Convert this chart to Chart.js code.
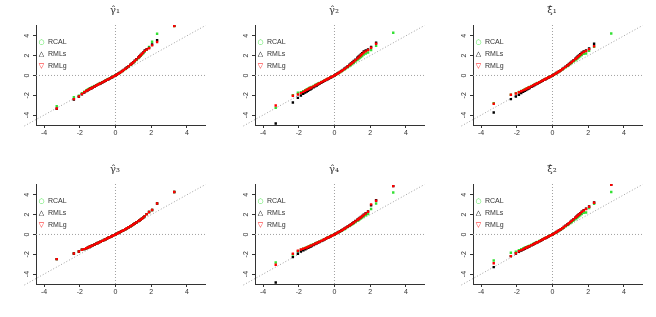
<!DOCTYPE html>
<html><head><meta charset="utf-8">
<script src="https://cdn.jsdelivr.net/npm/chart.js@4/dist/chart.umd.min.js"></script>
<style>
html,body{margin:0;padding:0;background:#fff;}
#wrap{position:relative;width:656px;height:317px;overflow:hidden;font-family:"Liberation Sans",Arial,sans-serif;}
.panel{position:absolute;width:219px;height:158px;}
.panel canvas{position:absolute;left:0;top:0;}
.ttl{position:absolute;top:4px;left:95px;width:40px;text-align:center;font-size:10px;color:#333;font-family:"DejaVu Serif","Liberation Serif",serif;}
.leg{position:absolute;left:37px;top:36px;font-size:7px;color:#333;line-height:11px;white-space:nowrap;}
.leg .s{display:inline-block;width:9px;text-align:center;font-family:"DejaVu Sans",sans-serif;font-size:7px;}
.leg .t{margin-left:2px;}
</style></head><body><div id="wrap"></div>
<script>
// theoretical normal quantiles (x positions of the Q-Q points)
const quantiles = [-3.29,-2.33,-2.05,-1.88,-1.75,-1.64,-1.55,-1.48,-1.41,-1.34,-1.28,-1.17,-1.08,-0.99,-0.92,-0.84,-0.74,-0.64,-0.55,-0.47,-0.39,-0.31,-0.23,-0.15,-0.08,0,0.08,0.15,0.23,0.31,0.39,0.47,0.55,0.64,0.74,0.84,0.92,0.99,1.08,1.17,1.28,1.34,1.41,1.48,1.55,1.64,1.75,1.88,2.05,2.33,3.29];

const seriesNames = ['RCAL','RMLs','RMLg'];
const panelTitles = ['γ̂₁','γ̂₂','ξ̂₁','γ̂₃','γ̂₄','ξ̂₂'];
const xTicks = [-4,-2,0,2,4];
const yTicks = [-4,-2,0,2,4];
const xRange = [-4.45, 5.04];
const yRange = [-5.0, 5.09];
const diagLine = [-5.1, 5.04];

// panel 1
const p1Rcal = [-3.10,-2.20,-2.04,-1.78,-1.63,-1.51,-1.42,-1.35,-1.28,-1.22,-1.17,-1.06,-0.98,-0.90,-0.83,-0.76,-0.67,-0.58,-0.50,-0.43,-0.35,-0.28,-0.21,-0.13,-0.06,0.01,0.09,0.16,0.25,0.34,0.44,0.54,0.64,0.76,0.90,1.04,1.16,1.27,1.41,1.56,1.74,1.85,1.97,2.10,2.23,2.40,2.58,2.88,3.40,4.20,4.98];
const p1Rmls = [-3.36,-2.42,-2.15,-1.89,-1.72,-1.58,-1.49,-1.42,-1.35,-1.29,-1.23,-1.12,-1.03,-0.95,-0.88,-0.81,-0.71,-0.62,-0.53,-0.45,-0.38,-0.30,-0.22,-0.15,-0.07,0.00,0.09,0.17,0.26,0.36,0.46,0.56,0.67,0.80,0.94,1.09,1.21,1.33,1.48,1.63,1.82,1.93,2.06,2.19,2.33,2.51,2.66,2.78,3.12,3.55,5.02];
const p1Rmlg = [-3.33,-2.39,-2.12,-1.87,-1.70,-1.57,-1.48,-1.41,-1.34,-1.28,-1.22,-1.11,-1.02,-0.94,-0.87,-0.80,-0.70,-0.61,-0.52,-0.45,-0.37,-0.30,-0.22,-0.14,-0.07,0.00,0.09,0.16,0.26,0.35,0.45,0.56,0.66,0.79,0.93,1.08,1.20,1.31,1.46,1.61,1.80,1.91,2.04,2.17,2.30,2.48,2.62,2.75,3.03,3.38,4.98];
// panel 2
const p2Rcal = [-3.27,-1.99,-1.75,-1.68,-1.58,-1.48,-1.40,-1.33,-1.27,-1.21,-1.15,-1.05,-0.97,-0.89,-0.82,-0.75,-0.66,-0.57,-0.49,-0.42,-0.35,-0.28,-0.20,-0.13,-0.07,0.00,0.08,0.15,0.24,0.33,0.42,0.51,0.60,0.71,0.83,0.96,1.06,1.16,1.28,1.40,1.56,1.65,1.75,1.85,1.96,2.10,2.22,2.32,2.56,3.00,4.31];
const p2Rmls = [-4.85,-2.73,-2.26,-2.02,-1.86,-1.73,-1.62,-1.54,-1.46,-1.39,-1.32,-1.20,-1.10,-1.01,-0.93,-0.85,-0.75,-0.65,-0.55,-0.47,-0.39,-0.31,-0.23,-0.15,-0.08,0.00,0.09,0.17,0.26,0.36,0.46,0.56,0.67,0.79,0.93,1.08,1.20,1.31,1.45,1.59,1.78,1.88,2.00,2.12,2.25,2.42,2.52,2.62,2.88,3.30,5.60];
const p2Rmlg = [-3.03,-2.05,-1.92,-1.78,-1.66,-1.55,-1.46,-1.39,-1.32,-1.26,-1.20,-1.10,-1.01,-0.93,-0.86,-0.78,-0.69,-0.60,-0.51,-0.44,-0.36,-0.29,-0.21,-0.14,-0.07,0.00,0.09,0.16,0.25,0.35,0.44,0.54,0.64,0.76,0.90,1.04,1.15,1.26,1.39,1.53,1.70,1.80,1.92,2.04,2.16,2.31,2.43,2.56,2.80,3.20,5.40];
// panel 3
const p3Rcal = [-2.79,-1.95,-1.78,-1.67,-1.57,-1.48,-1.40,-1.34,-1.28,-1.22,-1.17,-1.07,-0.98,-0.90,-0.83,-0.76,-0.67,-0.58,-0.50,-0.43,-0.35,-0.28,-0.21,-0.13,-0.07,0.00,0.08,0.15,0.24,0.33,0.41,0.51,0.60,0.71,0.83,0.95,1.06,1.15,1.27,1.39,1.54,1.63,1.73,1.83,1.93,2.07,2.19,2.22,2.49,2.90,4.24];
const p3Rmls = [-3.74,-2.39,-2.12,-1.95,-1.78,-1.66,-1.56,-1.48,-1.40,-1.33,-1.27,-1.15,-1.06,-0.97,-0.90,-0.82,-0.72,-0.62,-0.53,-0.45,-0.38,-0.30,-0.22,-0.15,-0.08,0.00,0.08,0.16,0.25,0.35,0.44,0.54,0.65,0.76,0.89,1.03,1.15,1.25,1.39,1.52,1.70,1.80,1.91,2.02,2.14,2.29,2.42,2.52,2.72,3.20,5.70];
const p3Rmlg = [-2.86,-1.95,-1.82,-1.70,-1.60,-1.51,-1.43,-1.37,-1.30,-1.24,-1.19,-1.09,-1.00,-0.92,-0.85,-0.78,-0.69,-0.60,-0.51,-0.44,-0.36,-0.29,-0.21,-0.14,-0.07,0.00,0.08,0.16,0.25,0.34,0.43,0.53,0.63,0.74,0.87,1.01,1.12,1.22,1.35,1.48,1.65,1.74,1.85,1.96,2.08,2.23,2.36,2.46,2.66,2.95,5.50];
// panel 4 (the three estimators coincide)
const p4Rcal = [-2.49,-1.92,-1.72,-1.55,-1.48,-1.40,-1.33,-1.27,-1.21,-1.15,-1.10,-1.01,-0.93,-0.86,-0.80,-0.73,-0.65,-0.56,-0.48,-0.41,-0.34,-0.27,-0.20,-0.13,-0.07,0.00,0.07,0.14,0.21,0.29,0.36,0.44,0.52,0.62,0.72,0.83,0.92,1.00,1.10,1.21,1.34,1.41,1.50,1.59,1.70,1.85,2.05,2.26,2.46,3.13,4.28];
const p4Rmls = [-2.49,-1.92,-1.72,-1.55,-1.48,-1.40,-1.33,-1.27,-1.21,-1.15,-1.10,-1.01,-0.93,-0.86,-0.80,-0.73,-0.65,-0.56,-0.48,-0.41,-0.34,-0.27,-0.20,-0.13,-0.07,0.00,0.07,0.14,0.21,0.29,0.36,0.44,0.52,0.62,0.72,0.83,0.92,1.00,1.10,1.21,1.34,1.41,1.50,1.59,1.70,1.85,2.05,2.26,2.46,3.13,4.28];
const p4Rmlg = [-2.49,-1.92,-1.72,-1.55,-1.48,-1.40,-1.33,-1.27,-1.21,-1.15,-1.10,-1.01,-0.93,-0.86,-0.80,-0.73,-0.65,-0.56,-0.48,-0.41,-0.34,-0.27,-0.20,-0.13,-0.07,0.00,0.07,0.14,0.21,0.29,0.36,0.44,0.52,0.62,0.72,0.83,0.92,1.00,1.10,1.21,1.34,1.41,1.50,1.59,1.70,1.85,2.05,2.26,2.46,3.13,4.28];
// panel 5
const p5Rcal = [-2.83,-2.02,-1.70,-1.53,-1.44,-1.36,-1.29,-1.23,-1.18,-1.12,-1.07,-0.98,-0.90,-0.83,-0.77,-0.71,-0.63,-0.55,-0.47,-0.40,-0.33,-0.26,-0.19,-0.13,-0.06,0.00,0.07,0.14,0.21,0.29,0.37,0.45,0.53,0.63,0.74,0.85,0.94,1.02,1.12,1.23,1.37,1.44,1.53,1.62,1.71,1.83,1.94,2.05,2.56,3.13,4.24];
const p5Rmls = [-4.85,-2.29,-1.95,-1.72,-1.60,-1.50,-1.41,-1.35,-1.28,-1.22,-1.16,-1.06,-0.97,-0.89,-0.83,-0.76,-0.67,-0.58,-0.50,-0.42,-0.35,-0.28,-0.21,-0.14,-0.07,0.00,0.08,0.16,0.24,0.32,0.40,0.49,0.58,0.69,0.80,0.92,1.02,1.11,1.23,1.35,1.49,1.57,1.67,1.76,1.86,1.99,2.15,2.33,2.93,3.45,4.88];
const p5Rmlg = [-3.06,-1.95,-1.65,-1.52,-1.45,-1.38,-1.31,-1.26,-1.20,-1.15,-1.10,-1.01,-0.93,-0.86,-0.80,-0.73,-0.65,-0.56,-0.48,-0.41,-0.34,-0.27,-0.20,-0.13,-0.07,0.00,0.08,0.15,0.23,0.31,0.39,0.48,0.57,0.67,0.79,0.90,1.00,1.09,1.20,1.32,1.46,1.54,1.64,1.73,1.83,1.96,2.12,2.29,3.03,3.40,4.88];
// panel 6
const p6Rcal = [-2.63,-1.85,-1.75,-1.60,-1.50,-1.42,-1.35,-1.29,-1.23,-1.18,-1.13,-1.04,-0.96,-0.88,-0.82,-0.75,-0.66,-0.57,-0.49,-0.42,-0.35,-0.28,-0.20,-0.13,-0.07,0.00,0.08,0.15,0.23,0.32,0.41,0.50,0.59,0.70,0.82,0.94,1.04,1.14,1.26,1.38,1.53,1.62,1.72,1.82,1.92,2.06,2.19,2.22,2.66,3.10,4.28];
const p6Rmls = [-3.30,-2.19,-1.92,-1.75,-1.62,-1.52,-1.44,-1.37,-1.31,-1.25,-1.20,-1.10,-1.01,-0.93,-0.86,-0.79,-0.70,-0.61,-0.52,-0.45,-0.37,-0.29,-0.22,-0.14,-0.07,0.00,0.08,0.16,0.25,0.34,0.44,0.53,0.64,0.75,0.89,1.03,1.14,1.25,1.38,1.52,1.70,1.80,1.91,2.03,2.14,2.30,2.45,2.60,2.82,3.22,5.04];
const p6Rmlg = [-2.90,-2.19,-1.89,-1.70,-1.58,-1.49,-1.41,-1.35,-1.29,-1.23,-1.18,-1.08,-1.00,-0.92,-0.85,-0.78,-0.69,-0.60,-0.51,-0.44,-0.36,-0.29,-0.21,-0.14,-0.07,0.00,0.08,0.16,0.25,0.34,0.44,0.53,0.63,0.75,0.88,1.02,1.13,1.24,1.37,1.51,1.68,1.78,1.89,2.01,2.12,2.28,2.42,2.56,2.79,3.20,5.02];

const panelSeries = [
  [p1Rcal,p1Rmls,p1Rmlg],[p2Rcal,p2Rmls,p2Rmlg],[p3Rcal,p3Rmls,p3Rmlg],
  [p4Rcal,p4Rmls,p4Rmlg],[p5Rcal,p5Rmls,p5Rmlg],[p6Rcal,p6Rmls,p6Rmlg]
];
const seriesColors = ['#33e033','#000000','#ff0000'];
const legendSymbols = ['○','△','▽'];

const FONT = '"Liberation Sans", Arial, sans-serif';
const AXC = '#333333';
const REFC = '#a0a0a0';
const wrap = document.getElementById('wrap');
const colLeft = [0,219,437];
const rowTop = [0,159];

function pts(ys){ return ys.map((y,i)=>({x:quantiles[i], y:y})); }

panelSeries.forEach((series, i)=>{
  const div = document.createElement('div');
  div.className = 'panel';
  div.style.left = colLeft[i%3]+'px';
  div.style.top = rowTop[Math.floor(i/3)]+'px';
  const cv = document.createElement('canvas');
  cv.width = 219; cv.height = 158;
  cv.style.width = '219px'; cv.style.height = '158px';
  div.appendChild(cv);
  const t = document.createElement('div');
  t.className = 'ttl'; t.textContent = panelTitles[i];
  div.appendChild(t);
  const lg = document.createElement('div');
  lg.className = 'leg';
  lg.innerHTML = seriesNames.map((n,k)=>'<div><span class="s" style="color:'+seriesColors[k]+'">'+legendSymbols[k]+'</span><span class="t">'+n+'</span></div>').join('');
  div.appendChild(lg);
  wrap.appendChild(div);

  const refStyle = {showLine:true, pointRadius:0, borderColor:REFC, borderWidth:1, borderDash:[1,2], order:10};
  const datasets = [
    Object.assign({data:[{x:diagLine[0],y:diagLine[0]},{x:diagLine[1],y:diagLine[1]}], clip:false}, refStyle),
    Object.assign({data:[{x:xRange[0],y:0},{x:xRange[1],y:0}]}, refStyle),
    Object.assign({data:[{x:0,y:yRange[0]},{x:0,y:yRange[1]}]}, refStyle)
  ];
  series.forEach((ys,k)=>{
    datasets.push({label:seriesNames[k], data:pts(ys), pointStyle:'rect', pointRadius:1.7, borderWidth:0,
      backgroundColor:seriesColors[k], borderColor:seriesColors[k], order:3-k});
  });

  new Chart(cv, {
    type:'scatter',
    data:{datasets},
    options:{
      responsive:false, animation:false, devicePixelRatio:1,
      events:[],
      layout:{autoPadding:false, padding:{left:16,right:13.5,top:25,bottom:13}},
      plugins:{legend:{display:false}, tooltip:{enabled:false}, title:{display:false}},
      scales:{
        x:{type:'linear', min:xRange[0], max:xRange[1],
          afterBuildTicks:s=>{s.ticks = xTicks.map(v=>({value:v}));},
          afterFit:s=>{s.height = 20;},
          grid:{drawOnChartArea:false, drawTicks:true, tickLength:3, color:AXC, lineWidth:1},
          border:{display:true, color:AXC, width:1},
          ticks:{font:{size:7,family:FONT}, color:AXC, padding:1, maxRotation:0, autoSkip:false, callback:v=>String(v)}
        },
        y:{type:'linear', min:yRange[0], max:yRange[1],
          afterBuildTicks:s=>{s.ticks = yTicks.map(v=>({value:v}));},
          afterFit:s=>{s.width = 20;},
          grid:{drawOnChartArea:false, drawTicks:true, tickLength:3, color:AXC, lineWidth:1},
          border:{display:true, color:AXC, width:1},
          ticks:{font:{size:7,family:FONT}, color:AXC, padding:3, minRotation:90, maxRotation:90, crossAlign:'center', autoSkip:false, callback:v=>String(v)}
        }
      }
    }
  });
});
</script>
</body></html>
